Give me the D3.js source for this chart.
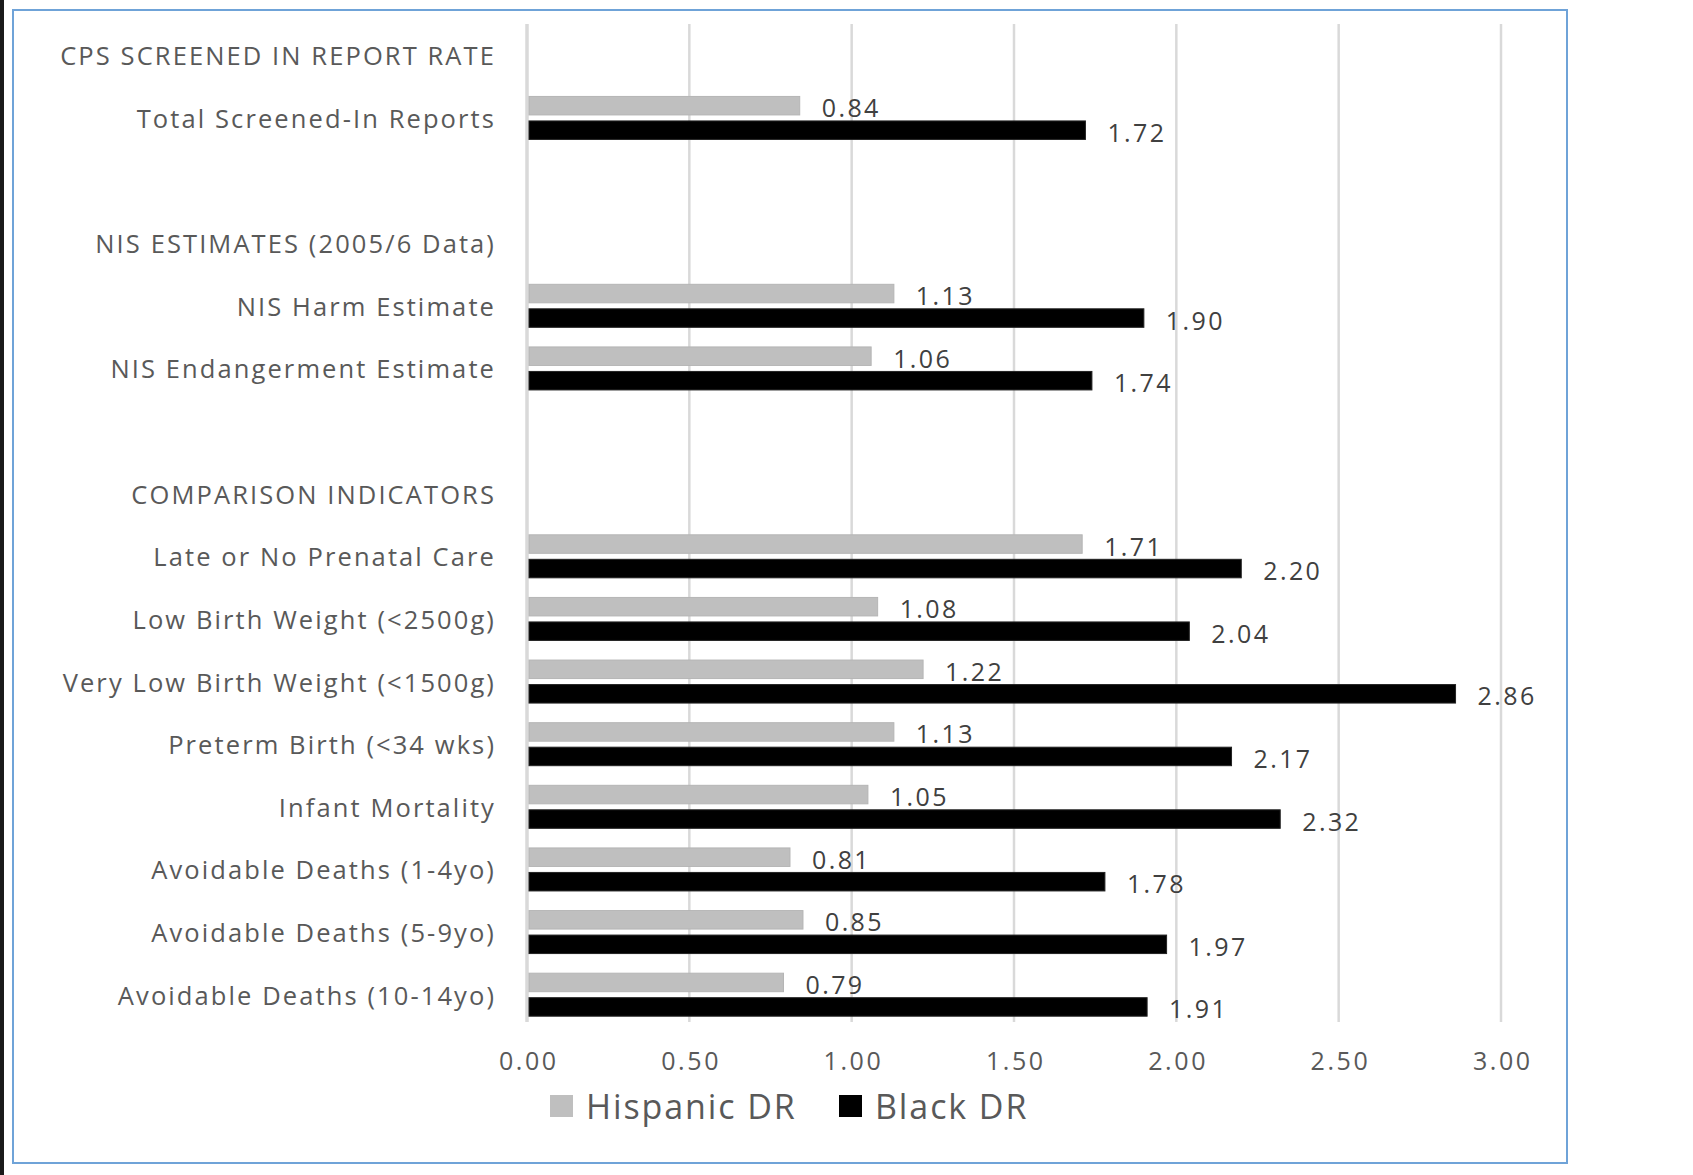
<!DOCTYPE html>
<html>
<head>
<meta charset="utf-8">
<script src="https://cdn.jsdelivr.net/npm/d3@7"></script>
<style>
  html, body { margin: 0; padding: 0; background: #ffffff; }
  svg { display: block; }
  text { font-family: "Open Sans", "DejaVu Sans", sans-serif; }
</style>
</head>
<body>
<svg id="chart" width="1693" height="1175"></svg>
<script>
// Row labels, top to bottom (section headers and blank spacer rows included)
const rows = [
  "CPS SCREENED IN REPORT RATE",
  "Total Screened-In Reports",
  "",
  "NIS ESTIMATES (2005/6 Data)",
  "NIS Harm Estimate",
  "NIS Endangerment Estimate",
  " ",
  "COMPARISON INDICATORS",
  "Late or No Prenatal Care",
  "Low Birth Weight (<2500g)",
  "Very Low Birth Weight (<1500g)",
  "Preterm Birth (<34 wks)",
  "Infant Mortality",
  "Avoidable Deaths (1-4yo)",
  "Avoidable Deaths (5-9yo)",
  "Avoidable Deaths (10-14yo)"
];

// Rows that carry bars
const categories = [
  "Total Screened-In Reports",
  "NIS Harm Estimate",
  "NIS Endangerment Estimate",
  "Late or No Prenatal Care",
  "Low Birth Weight (<2500g)",
  "Very Low Birth Weight (<1500g)",
  "Preterm Birth (<34 wks)",
  "Infant Mortality",
  "Avoidable Deaths (1-4yo)",
  "Avoidable Deaths (5-9yo)",
  "Avoidable Deaths (10-14yo)"
];

const hispanicDR = [0.84, 1.13, 1.06, 1.71, 1.08, 1.22, 1.13, 1.05, 0.81, 0.85, 0.79];
const blackDR    = [1.72, 1.90, 1.74, 2.20, 2.04, 2.86, 2.17, 2.32, 1.78, 1.97, 1.91];

const seriesNames = ["Hispanic DR", "Black DR"];
const seriesColors = ["#bfbfbf", "#000000"];

const xTicks = [0, 0.5, 1, 1.5, 2, 2.5, 3];

const svg = d3.select("#chart");

// Outer frame
svg.append("rect").attr("x", 0).attr("y", 0).attr("width", 4).attr("height", 1175).attr("fill", "#1a1a1a");
svg.append("rect")
  .attr("x", 13).attr("y", 10).attr("width", 1554).attr("height", 1153)
  .attr("fill", "#ffffff").attr("stroke", "#6fa3d8").attr("stroke-width", 2);

const x = d3.scaleLinear().domain([0, 3]).range([527, 1501]);
const y = d3.scaleBand().domain(rows).range([24, 1026]).padding(0);
const inner = d3.scaleBand().domain(seriesNames).range([-21.5, 21.5]).paddingInner(0.245);

const gridTop = 24, gridBottom = 1022;

// Vertical gridlines
svg.append("g").selectAll("line").data(xTicks).join("line")
  .attr("x1", d => x(d)).attr("x2", d => x(d))
  .attr("y1", gridTop).attr("y2", gridBottom)
  .attr("stroke", "#d9d9d9").attr("stroke-width", d => d === 0 ? 3.5 : 2.5);

// X axis tick labels
const xAxis = d3.axisBottom(x).tickValues(xTicks).tickFormat(d3.format(".2f")).tickSize(0).tickPadding(0);
const gx = svg.append("g").attr("transform", `translate(0,${1052})`).call(xAxis);
gx.select(".domain").remove();
gx.selectAll("text")
  .attr("font-family", "'Open Sans', sans-serif")
  .attr("font-size", 25).attr("fill", "#595959")
  .attr("letter-spacing", "2.6px")
  .attr("dx", "1.3px");

// Row labels
svg.append("g").selectAll("text").data(rows.filter(r => r.trim() !== "")).join("text")
  .attr("x", 496)
  .attr("y", d => y(d) + y.bandwidth() / 2)
  .attr("text-anchor", "end")
  .attr("dominant-baseline", "central")
  .attr("font-size", 25.5)
  .attr("letter-spacing", "2.1px")
  .attr("fill", "#595959")
  .text(d => d);

// Bars
const data = categories.map((c, i) => ({ cat: c, values: [hispanicDR[i], blackDR[i]] }));
const groups = svg.append("g").selectAll("g").data(data).join("g")
  .attr("transform", d => `translate(0,${y(d.cat) + y.bandwidth() / 2})`);

groups.selectAll("rect").data(d => d.values.map((v, k) => ({ v, k }))).join("rect")
  .attr("x", x(0) + 2)
  .attr("y", d => inner(seriesNames[d.k]))
  .attr("width", d => x(d.v) - x(0) - 2)
  .attr("height", inner.bandwidth())
  .attr("fill", d => seriesColors[d.k])
  .attr("stroke", d => d.k === 0 ? "#b5b5b5" : "#222")
  .attr("stroke-width", 1);

// Value labels
groups.selectAll("text").data(d => d.values.map((v, k) => ({ v, k }))).join("text")
  .attr("x", d => x(d.v) + 22)
  .attr("y", d => inner(seriesNames[d.k]) + inner.bandwidth() / 2 + 1.5)
  .attr("dominant-baseline", "central")
  .attr("font-size", 25)
  .attr("fill", "#404040")
  .attr("letter-spacing", "2.4px")
  .text(d => d3.format(".2f")(d.v));

// Legend
const legend = svg.append("g").attr("transform", "translate(0,1106)");
const legendX = [550, 839];
seriesNames.forEach((name, i) => {
  legend.append("rect")
    .attr("x", legendX[i]).attr("y", -11).attr("width", 23).attr("height", 22)
    .attr("fill", seriesColors[i]);
  legend.append("text")
    .attr("x", legendX[i] + 36).attr("y", 0)
    .attr("dominant-baseline", "central")
    .attr("font-size", 34).attr("fill", "#595959")
    .attr("letter-spacing", "1.9px")
    .text(name);
});
</script>
</body>
</html>
